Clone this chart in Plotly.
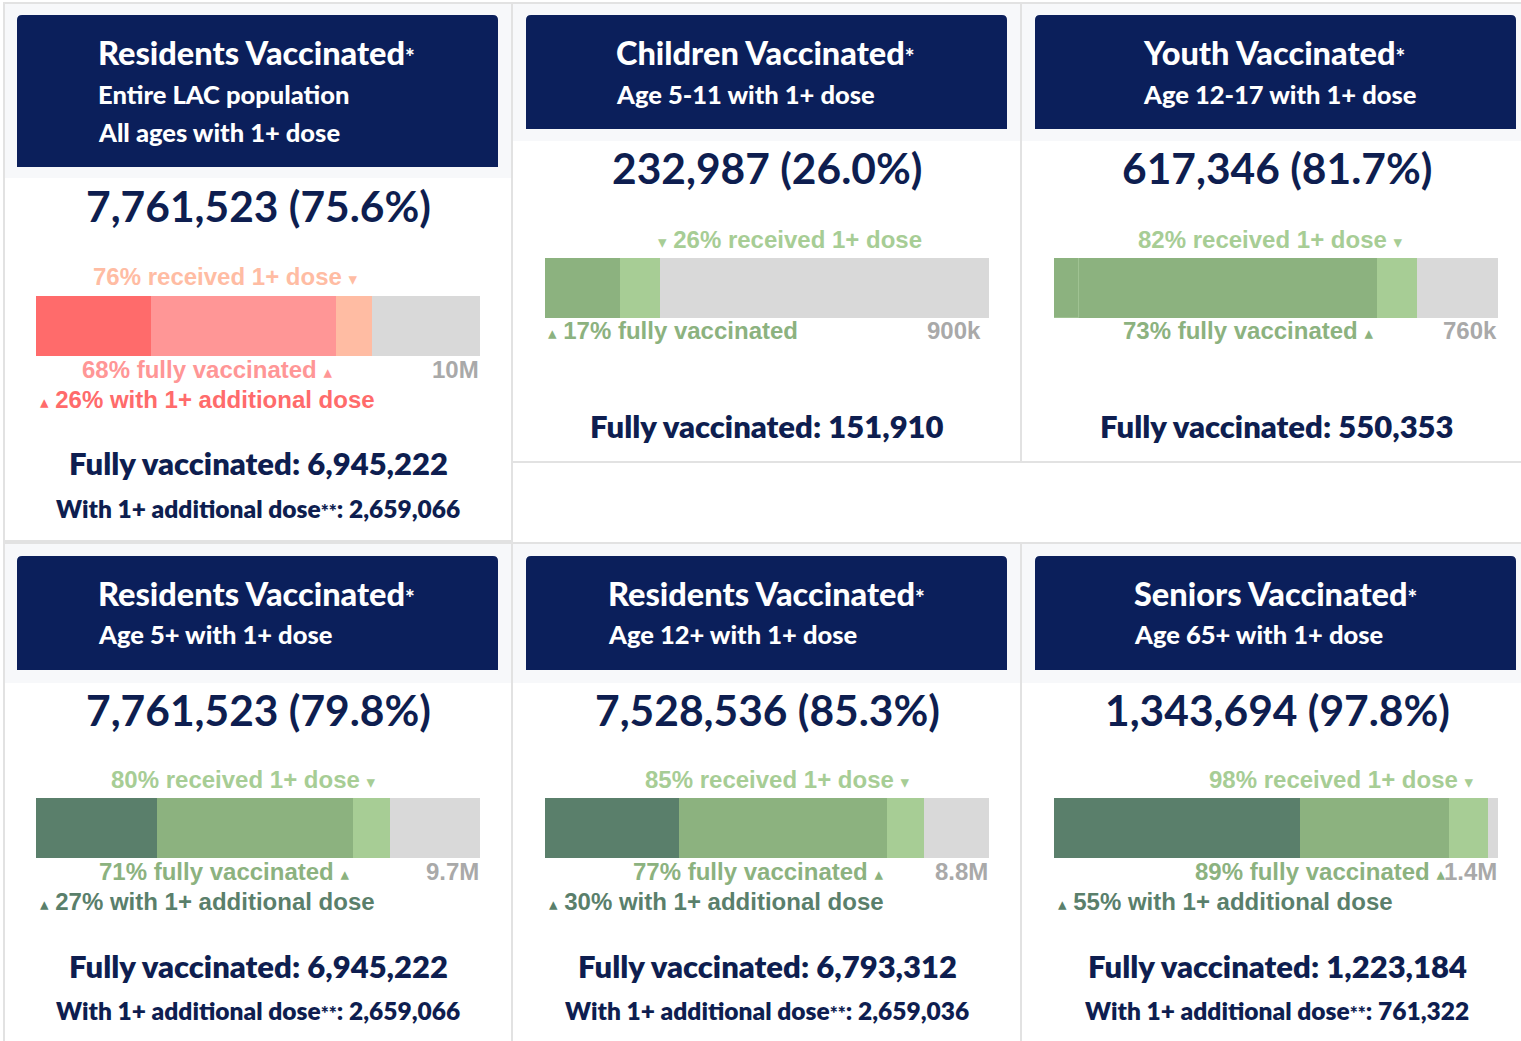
import plotly.graph_objects as go

W, H = 1521, 1041

# ---------------- data ----------------
titles = ["Residents Vaccinated", "Children Vaccinated", "Youth Vaccinated",
          "Residents Vaccinated", "Residents Vaccinated", "Seniors Vaccinated"]
subtitles = [["Entire LAC population", "All ages with 1+ dose"],
             ["Age 5-11 with 1+ dose"],
             ["Age 12-17 with 1+ dose"],
             ["Age 5+ with 1+ dose"],
             ["Age 12+ with 1+ dose"],
             ["Age 65+ with 1+ dose"]]
one_plus = [7761523, 232987, 617346, 7761523, 7528536, 1343694]
one_plus_pct = [75.6, 26.0, 81.7, 79.8, 85.3, 97.8]
fully_vax = [6945222, 151910, 550353, 6945222, 6793312, 1223184]
additional_bar = [2659066, 0, 42000, 2659066, 2659036, 761322]
additional_total = [2659066, None, None, 2659066, 2659036, 761322]
population = [10267000, 896000, 755600, 9726000, 8826000, 1374000]
population_labels = ["10M", "900k", "760k", "9.7M", "8.8M", "1.4M"]
received_pct_labels = ["76%", "26%", "82%", "80%", "85%", "98%"]
fully_pct_labels = ["68%", "17%", "73%", "71%", "77%", "89%"]
additional_pct_labels = ["26%", None, None, "27%", "30%", "55%"]

# ---------------- styles / layout ----------------
RED = ["#ff6b6b", "#ff9696", "#ffbca3", "#d9d9d9"]
GREEN = ["#5a7f6b", "#8cb27f", "#a7cd95", "#d9d9d9"]
palettes = [RED, GREEN, GREEN, GREEN, GREEN, GREEN]
seg1_override = [None, None, "#8cb27f", None, None, None]
NAVY_BOX = "#0b1f5b"
NAVY_TXT = "#0e1e50"
POP_GRAY = "#a9a9a9"

panel_boxes = [(4, 512, 3, 541), (512, 1021, 3, 462), (1021, 1524, 3, 462),
               (4, 512, 543, 1043), (512, 1021, 543, 1043), (1021, 1524, 543, 1043)]
header_bottoms = [178, 141, 141, 683, 683, 683]
navy_boxes = [(17, 498, 15, 167), (526, 1007, 15, 129), (1035, 1516, 15, 129),
              (17, 498, 556, 670), (526, 1007, 556, 670), (1035, 1516, 556, 670)]
head_left = [96, 614, 1141, 96, 606, 1132]
title_y = [53, 53, 53, 593, 593, 593]
sub_y = [[94, 132], [94], [94], [634], [634], [634]]
num_cx = [258, 767, 1277, 258, 767, 1277]
num_y = [205, 167, 167, 709, 709, 709]
bar_x = [(36, 480), (545, 989), (1054, 1498), (36, 480), (545, 989), (1054, 1498)]
bar_y = [(296, 356), (258, 318), (258, 318), (798, 858), (798, 858), (798, 858)]
fully_y = [463, 426, 426, 966, 966, 966]
addl_y = [508, None, None, 1010, 1010, 1010]
received_left_of_mark = [True, False, True, True, True, True]
fully_at_start = [False, True, False, False, False, False]
pop_shift = [0, -7, 0, 0, 0, 0]


def px(x):
    return x / W


def py(y):
    return 1 - y / H


fig = go.Figure()
shapes = []
annotations = []
layout_axes = {}

LABEL_FONT = "Arial"
LABEL_SIZE = 24
TRI_DOWN = "<span style='font-family:DejaVu Sans;font-size:17px'>▾</span>"
TRI_UP = "<span style='font-family:DejaVu Sans;font-size:17px'>▴</span>"
STAR1 = "<span style='font-size:23px'>*</span>"
STAR2 = "<span style='font-size:19px'>**</span>"

for i in range(6):
    x0, x1, y0, y1 = panel_boxes[i]
    shapes.append(dict(type="rect", xref="paper", yref="paper", x0=px(x0), x1=px(x1),
                       y0=py(y1), y1=py(y0), fillcolor="white",
                       line=dict(color="#e2e2e2", width=2), layer="below"))
    shapes.append(dict(type="rect", xref="paper", yref="paper", x0=px(x0 + 1), x1=px(x1 - 1),
                       y0=py(header_bottoms[i]), y1=py(y0 + 1), fillcolor="#f7f8fa",
                       line=dict(width=0), layer="below"))
    bx0, bx1, by0, by1 = navy_boxes[i]
    r = 5
    path = (f"M {px(bx0)},{py(by1)} L {px(bx0)},{py(by0 + r)} "
            f"Q {px(bx0)},{py(by0)} {px(bx0 + r)},{py(by0)} "
            f"L {px(bx1 - r)},{py(by0)} Q {px(bx1)},{py(by0)} {px(bx1)},{py(by0 + r)} "
            f"L {px(bx1)},{py(by1)} Z")
    shapes.append(dict(type="path", xref="paper", yref="paper", path=path,
                       fillcolor=NAVY_BOX, line=dict(width=0), layer="below"))

    # header text
    annotations.append(dict(xref="paper", yref="paper", x=px(head_left[i]), y=py(title_y[i]),
                            xanchor="left", yanchor="middle", showarrow=False,
                            text=titles[i] + STAR1,
                            font=dict(family="Lato", size=32.5, color="white", weight=900)))
    for s, sy in zip(subtitles[i], sub_y[i]):
        annotations.append(dict(xref="paper", yref="paper", x=px(head_left[i]), y=py(sy),
                                xanchor="left", yanchor="middle", showarrow=False, text=s,
                                font=dict(family="Lato", size=25.5, color="white", weight=900)))

    # big number
    annotations.append(dict(xref="paper", yref="paper", x=px(num_cx[i]), y=py(num_y[i]),
                            xanchor="center", yanchor="middle", showarrow=False,
                            text=f"{one_plus[i]:,} ({one_plus_pct[i]:.1f}%)",
                            font=dict(family="Lato", size=42.5, color=NAVY_TXT, weight="bold")))

    # bar axes
    xa = "xaxis" if i == 0 else f"xaxis{i + 1}"
    ya = "yaxis" if i == 0 else f"yaxis{i + 1}"
    xr = "x" if i == 0 else f"x{i + 1}"
    yr = "y" if i == 0 else f"y{i + 1}"
    layout_axes[xa] = dict(domain=[px(bar_x[i][0]), px(bar_x[i][1])], range=[0, population[i]],
                           visible=False, fixedrange=True, anchor=yr)
    layout_axes[ya] = dict(domain=[py(bar_y[i][1]), py(bar_y[i][0])], range=[-0.5, 0.5],
                           visible=False, fixedrange=True, anchor=xr)

    segs = [additional_bar[i], fully_vax[i] - additional_bar[i],
            one_plus[i] - fully_vax[i], population[i] - one_plus[i]]
    cols = list(palettes[i])
    if seg1_override[i]:
        cols[0] = seg1_override[i]
    for k, (v, c) in enumerate(zip(segs, cols)):
        line = dict(width=0)
        if k == 0 and seg1_override[i]:
            line = dict(width=1, color="#9fc292")
        fig.add_trace(go.Bar(x=[v], y=[0], orientation="h", width=1, xaxis=xr, yaxis=yr,
                             marker=dict(color=c, line=line), showlegend=False,
                             hoverinfo="skip"))

    bt, bb = bar_y[i]
    lf = dict(family=LABEL_FONT, size=LABEL_SIZE, weight="bold")
    # received label
    if received_left_of_mark[i]:
        annotations.append(dict(xref=xr, yref="paper", x=one_plus[i], y=py(bt - 19),
                                xanchor="right", yanchor="middle", xshift=-12, showarrow=False,
                                text=f"{received_pct_labels[i]} received 1+ dose {TRI_DOWN}",
                                font=dict(lf, color=palettes[i][2])))
    else:
        annotations.append(dict(xref=xr, yref="paper", x=one_plus[i], y=py(bt - 19),
                                xanchor="left", yanchor="middle", xshift=-4, showarrow=False,
                                text=f"{TRI_DOWN} {received_pct_labels[i]} received 1+ dose",
                                font=dict(lf, color=palettes[i][2])))
    # fully label
    if fully_at_start[i]:
        annotations.append(dict(xref=xr, yref="paper", x=0, y=py(bb + 13),
                                xanchor="left", yanchor="middle", xshift=1, showarrow=False,
                                text=f"{TRI_UP} {fully_pct_labels[i]} fully vaccinated",
                                font=dict(lf, color=palettes[i][1])))
    else:
        annotations.append(dict(xref=xr, yref="paper", x=fully_vax[i], y=py(bb + 13),
                                xanchor="right", yanchor="middle", xshift=-2, showarrow=False,
                                text=f"{fully_pct_labels[i]} fully vaccinated {TRI_UP}",
                                font=dict(lf, color=palettes[i][1])))
    # additional label
    if additional_pct_labels[i]:
        annotations.append(dict(xref=xr, yref="paper", x=0, y=py(bb + 43),
                                xanchor="left", yanchor="middle", xshift=2, showarrow=False,
                                text=f"{TRI_UP} {additional_pct_labels[i]} with 1+ additional dose",
                                font=dict(lf, color=palettes[i][0])))
    # population label
    annotations.append(dict(xref=xr, yref="paper", x=population[i], y=py(bb + 13),
                            xanchor="right", yanchor="middle", xshift=pop_shift[i] + 1,
                            showarrow=False, text=population_labels[i],
                            font=dict(lf, color=POP_GRAY)))

    # summary lines
    annotations.append(dict(xref="paper", yref="paper", x=px(num_cx[i]), y=py(fully_y[i]),
                            xanchor="center", yanchor="middle", showarrow=False,
                            text=f"Fully vaccinated: {fully_vax[i]:,}",
                            font=dict(family="Lato", size=31, color=NAVY_TXT, weight=800)))
    if additional_total[i] is not None:
        annotations.append(dict(xref="paper", yref="paper", x=px(num_cx[i]), y=py(addl_y[i]),
                                xanchor="center", yanchor="middle", showarrow=False,
                                text=f"With 1+ additional dose{STAR2}: {additional_total[i]:,}",
                                font=dict(family="Lato", size=24.5, color=NAVY_TXT, weight=800)))

fig.update_layout(width=W, height=H, margin=dict(l=0, r=0, t=0, b=0),
                  paper_bgcolor="white", plot_bgcolor="rgba(0,0,0,0)",
                  barmode="stack", bargap=0, shapes=shapes, annotations=annotations,
                  **layout_axes)

fig.write_html("out.html", include_plotlyjs=True,
               config={"displayModeBar": False},
               post_script="document.body.style.margin='0';document.body.style.overflow='hidden';")
